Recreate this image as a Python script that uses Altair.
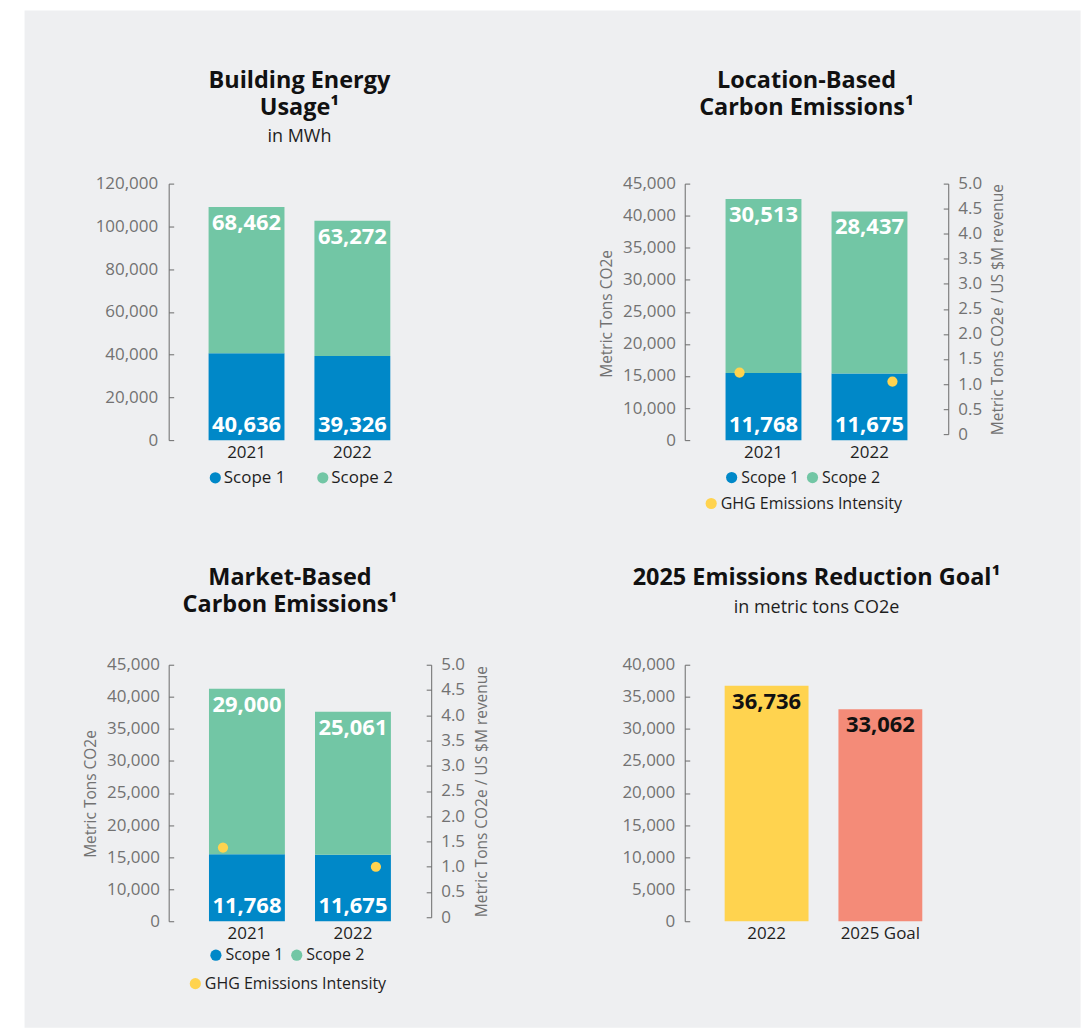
import altair as alt
import pandas as pd

# ---------------- data ----------------
years = ["2021", "2022"]
scopes = ["Scope 1", "Scope 2"]

energy_scope1 = [40636, 39326]
energy_scope2 = [68462, 63272]

location_scope1 = [11768, 11675]
location_scope2 = [30513, 28437]
location_intensity = [1.23, 1.05]

market_scope1 = [11768, 11675]
market_scope2 = [29000, 25061]
market_intensity = [1.38, 1.00]

goal_categories = ["2022", "2025 Goal"]
goal_values = [36736, 33062]

intensity_series = "GHG Emissions Intensity"

energy_ticks = [0, 20000, 40000, 60000, 80000, 100000, 120000]
emission_tick_labels = ["0", "10,000", "15,000", "20,000", "25,000",
                        "30,000", "35,000", "40,000", "45,000"]
intensity_ticks = [0, 0.5, 1.0, 1.5, 2.0, 2.5, 3.0, 3.5, 4.0, 4.5, 5.0]
goal_ticks = [0, 5000, 10000, 15000, 20000, 25000, 30000, 35000, 40000]

# ---------------- style ----------------
FONT = "Open Sans"
BLUE = "#0088c8"
GREEN = "#72c6a5"
YELLOW = "#ffd34f"
SALMON = "#f48b78"
BG = "#eeeff1"
AXIS_LINE = "#6a6a6a"
AXIS_LABEL = "#727272"
DARK = "#1e1e1e"
THOUSANDS = "format(datum.value, ',')"


def stacked_df(s1, s2):
    rows = []
    for i, y in enumerate(years):
        rows.append({"year": y, "scope": scopes[0], "order": 0, "value": s1[i]})
        rows.append({"year": y, "scope": scopes[1], "order": 1, "value": s2[i]})
    return pd.DataFrame(rows)


def x_encoding(domain, field, pin, pout):
    return alt.X(
        f"{field}:N",
        sort=domain,
        scale=alt.Scale(domain=domain, paddingInner=pin, paddingOuter=pout),
        axis=alt.Axis(orient="bottom", domain=False, ticks=False, labelAngle=0,
                      labelFont=FONT, labelFontSize=17, labelColor=DARK,
                      labelPadding=4, title=None, zindex=1),
    )


def inward_left_axis(W, values, gap, label_expr, title=None, tx=0, ty=0):
    kw = dict(orient="right", offset=-W, values=values, tickSize=5,
              labelPadding=-(5 + gap), labelAlign="right", labelBaseline="middle",
              labelFont=FONT, labelFontSize=17, labelColor=AXIS_LABEL,
              labelFlush=False, labelOverlap=False, labelBound=False,
              labelExpr=label_expr,
              domainColor=AXIS_LINE, tickColor=AXIS_LINE, domainWidth=1, tickWidth=1,
              grid=False, zindex=1)
    if title is not None:
        kw.update(title=title, titleX=tx, titleY=ty, titleAngle=270,
                  titleAlign="center", titleBaseline="middle", titleFont=FONT,
                  titleFontSize=15.5, titleFontWeight="normal", titleColor=AXIS_LABEL)
    else:
        kw["title"] = None
    return alt.Axis(**kw)


def inward_right_axis(W, values, gap, label_expr, title, tx, ty):
    return alt.Axis(orient="left", offset=-W, values=values, tickSize=5,
                    labelPadding=-(5 + gap), labelAlign="left", labelBaseline="middle",
                    labelFont=FONT, labelFontSize=17, labelColor=AXIS_LABEL,
                    labelFlush=False, labelOverlap=False, labelBound=False,
                    labelExpr=label_expr,
                    domainColor=AXIS_LINE, tickColor=AXIS_LINE, domainWidth=1, tickWidth=1,
                    grid=False, zindex=1,
                    title=title, titleX=tx, titleY=ty, titleAngle=270,
                    titleAlign="center", titleBaseline="middle", titleFont=FONT,
                    titleFontSize=15.5, titleFontWeight="normal", titleColor=AXIS_LABEL)


def symbol_legend(lx, ly, size, offset, colpad):
    return alt.Legend(orient="none", legendX=lx, legendY=ly, direction="horizontal",
                      title=None, symbolType="circle", symbolSize=125, symbolStrokeWidth=0,
                      symbolOpacity=1,
                      labelFont=FONT, labelFontSize=size, labelColor=DARK, labelLimit=300,
                      labelOffset=offset, columnPadding=colpad, padding=0, zindex=1)


def value_labels(df, x_enc, yscale, yaxis):
    common = dict(baseline="middle", align="center", font=FONT, fontSize=22,
                  fontWeight="bold", color="white")
    top = (alt.Chart(df)
           .transform_joinaggregate(total="sum(value)", groupby=["year"])
           .transform_filter(alt.datum.scope == scopes[1])
           .mark_text(dy=16, **common)
           .encode(x=x_enc, y=alt.Y("total:Q", scale=yscale, axis=yaxis),
                   text=alt.Text("value:Q", format=",")))
    bottom = (alt.Chart(df)
              .transform_filter(alt.datum.scope == scopes[0])
              .mark_text(dy=-15, **common)
              .encode(x=x_enc,
                      y=alt.YDatum(0, type="quantitative", scale=yscale, axis=yaxis),
                      text=alt.Text("value:Q", format=",")))
    return top, bottom


def title_params(text, offset, dx=0, subtitle=None, sub_pad=7):
    kw = dict(text=text, anchor="middle", frame="group", font=FONT, fontSize=23.5,
              fontWeight="bold", color="#111111", lineHeight=27, offset=offset, dx=dx,
              zindex=1)
    if subtitle is not None:
        kw.update(subtitle=subtitle, subtitleFont=FONT, subtitleFontSize=18,
                  subtitleColor=DARK, subtitlePadding=sub_pad)
    return alt.TitleParams(**kw)


# ---------------- panel 1: building energy ----------------
W1, H = 262, 257
df1 = stacked_df(energy_scope1, energy_scope2)
x1 = x_encoding(years, "year", 0.283, 0.377)
y1_scale = alt.Scale(domain=[0, 120000], nice=False, zero=True)
y1_axis = inward_left_axis(W1, energy_ticks, 11, THOUSANDS)

background = (alt.Chart(alt.Data(values=[{"panel": "background"}]))
              .mark_rect(color=BG)
              .encode(x=alt.value(-144.4), x2=alt.value(913.6),
                      y=alt.value(-173.4), y2=alt.value(845.6)))

bars1 = alt.Chart(df1).mark_bar().encode(
    x=x1,
    y=alt.Y("value:Q", stack="zero", scale=y1_scale, axis=y1_axis),
    color=alt.Color("scope:N", scale=alt.Scale(domain=scopes, range=[BLUE, GREEN]),
                    legend=symbol_legend(38.2, 286, 17, 0, 28.7)),
    order=alt.Order("order:Q", sort="ascending"),
)
t1a, t1b = value_labels(df1, x1, y1_scale, y1_axis)
p1 = alt.layer(background, bars1, t1a, t1b).properties(
    width=W1, height=H,
    title=title_params(["Building Energy", "Usage¹"], -136, 0, "in MWh", 8.5))


# ---------------- panels 2/3: carbon emissions ----------------
emission_step = 45000 / (len(emission_tick_labels) - 1)
emission_positions = [emission_step * i for i in range(len(emission_tick_labels))]
emission_expr = ("[" + ",".join(f"'{s}'" for s in emission_tick_labels) + "]"
                 f"[round(datum.value / {emission_step})]")
intensity_expr = "datum.value == 0 ? '0' : format(datum.value, '.1f')"


def emission_panel(W, s1, s2, intensity, pout, right_range, ltx, lty, rtx, rty,
                   leg1, leg2, title):
    df = stacked_df(s1, s2)
    dfi = pd.DataFrame({"year": years, "intensity": intensity,
                        "series": [intensity_series] * len(years)})
    xe = x_encoding(years, "year", 0.284, pout)
    ys = alt.Scale(domain=[0, 45000], nice=False, zero=True)
    bars = alt.Chart(df).mark_bar().encode(
        x=xe,
        y=alt.Y("value:Q", stack="zero", scale=ys,
                axis=inward_left_axis(W, emission_positions, 9.3, emission_expr,
                                      title="Metric Tons CO2e", tx=ltx, ty=lty)),
        color=alt.Color("scope:N", scale=alt.Scale(domain=scopes, range=[BLUE, GREEN]),
                        legend=symbol_legend(leg1[0], leg1[1], 16, 1.5, 5)),
        order=alt.Order("order:Q", sort="ascending"),
    )
    ta, tb = value_labels(df, xe, ys, None)
    iscale = alt.Scale(domain=[0, 5], range=right_range, nice=False, zero=True)
    fill = alt.Fill("series:N",
                    scale=alt.Scale(domain=[intensity_series], range=[YELLOW]),
                    legend=symbol_legend(leg2[0], leg2[1], 16, 1.5, 5))
    dot_a = (alt.Chart(dfi).transform_filter(alt.datum.year == years[0])
             .mark_circle(size=105, opacity=1, xOffset=-24)
             .encode(x=xe,
                     y=alt.Y("intensity:Q", scale=iscale,
                             axis=inward_right_axis(W, intensity_ticks, 9.5, intensity_expr,
                                                    "Metric Tons CO2e / US $M revenue",
                                                    rtx, rty)),
                     fill=fill))
    dot_b = (alt.Chart(dfi).transform_filter(alt.datum.year == years[1])
             .mark_circle(size=105, opacity=1, xOffset=23)
             .encode(x=xe, y=alt.Y("intensity:Q", scale=iscale, axis=None), fill=fill))
    return (alt.layer(bars, ta, tb, dot_a, dot_b)
            .resolve_scale(y="independent")
            .properties(width=W, height=H, title=title))


W2, W3 = 264, 263
p2 = emission_panel(W2, location_scope1, location_scope2, location_intensity, 0.385,
                    [251, 0], -78.3, 130, 49.4, 125.7, (39, 286.5), (18.5, 312.5),
                    title_params(["Location-Based", "Carbon Emissions¹"], 55, -10))
p3 = emission_panel(W3, market_scope1, market_scope2, market_intensity, 0.380,
                    [253, 0], -78.2, 129, 50.7, 126.6, (39.3, 283), (18.7, 311.5),
                    title_params(["Market-Based", "Carbon Emissions¹"], 39, -10))

# ---------------- panel 4: reduction goal ----------------
W4 = 278
df4 = pd.DataFrame({"category": goal_categories, "value": goal_values})
x4 = x_encoding(goal_categories, "category", 0.263, 0.351)
y4_scale = alt.Scale(domain=[0, 40000], nice=False, zero=True)
y4_axis = inward_left_axis(W4, goal_ticks, 10, THOUSANDS)
bars4 = alt.Chart(df4).mark_bar().encode(
    x=x4,
    y=alt.Y("value:Q", scale=y4_scale, axis=y4_axis),
    color=alt.Color("category:N",
                    scale=alt.Scale(domain=goal_categories, range=[YELLOW, SALMON]),
                    legend=None),
)
text4 = alt.Chart(df4).mark_text(dy=16, baseline="middle", font=FONT, fontSize=22,
                                 fontWeight="bold", color="#111111").encode(
    x=x4, y=alt.Y("value:Q", scale=y4_scale, axis=y4_axis),
    text=alt.Text("value:Q", format=","))
p4 = alt.layer(bars4, text4).properties(
    width=W4, height=H,
    title=title_params("2025 Emissions Reduction Goal¹", 39, -7, "in metric tons CO2e", 9.5))

chart = (alt.concat(p1, p2, p3, p4, columns=2, spacing={"row": 225, "column": 254},
                    bounds="flush", align="each")
         .resolve_scale(color="independent", fill="independent")
         .resolve_legend(color="independent", fill="independent")
         .properties(background="white",
                     padding={"left": 24, "top": 9, "right": 0, "bottom": 0},
                     autosize=alt.AutoSizeParams(type="pad"))
         .configure(font=FONT)
         .configure_view(stroke="transparent"))

chart.save("out.html", embed_options={"renderer": "svg", "actions": False})
